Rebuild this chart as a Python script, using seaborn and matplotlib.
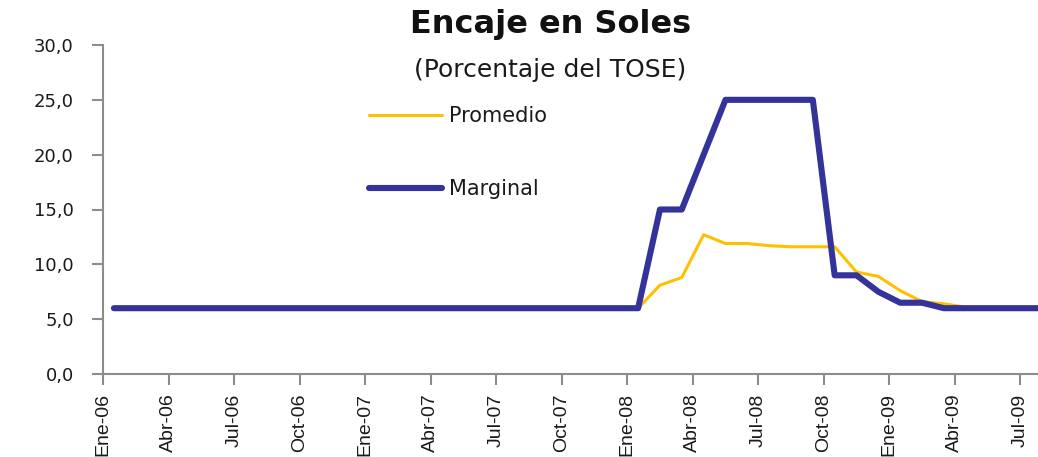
import matplotlib
matplotlib.use("Agg")
import matplotlib.pyplot as plt
import seaborn as sns
import pandas as pd

# Monthly data, Ene-06 .. Ago-09 (one value per month)
marginal = [6.0, 6.0, 6.0, 6.0, 6.0, 6.0, 6.0, 6.0, 6.0, 6.0, 6.0, 6.0,   # 2006
            6.0, 6.0, 6.0, 6.0, 6.0, 6.0, 6.0, 6.0, 6.0, 6.0, 6.0, 6.0,   # 2007
            6.0, 15.0, 15.0, 20.0, 25.0, 25.0, 25.0, 25.0, 25.0, 9.0, 9.0, 7.5,  # 2008
            6.5, 6.5, 6.0, 6.0, 6.0, 6.0, 6.0, 6.0]                      # 2009
promedio = [6.0, 6.0, 6.0, 6.0, 6.0, 6.0, 6.0, 6.0, 6.0, 6.0, 6.0, 6.0,
            6.0, 6.0, 6.0, 6.0, 6.0, 6.0, 6.0, 6.0, 6.0, 6.0, 6.0, 6.0,
            6.0, 8.1, 8.8, 12.7, 11.9, 11.9, 11.7, 11.6, 11.6, 11.6, 9.3, 8.9,
            7.6, 6.6, 6.4, 6.1, 6.0, 6.0, 6.0, 6.0]

tick_labels = ["Ene-06", "Abr-06", "Jul-06", "Oct-06",
               "Ene-07", "Abr-07", "Jul-07", "Oct-07",
               "Ene-08", "Abr-08", "Jul-08", "Oct-08",
               "Ene-09", "Abr-09", "Jul-09"]
y_ticks = [0, 5, 10, 15, 20, 25, 30]

# points sit in the middle of each month slot
df = pd.DataFrame({"mes": [i + 0.5 for i in range(len(marginal))],
                   "Promedio": promedio, "Marginal": marginal})

sns.set_style("white")
plt.rcParams["font.family"] = ["DejaVu Sans"]

W, H = 1038, 457
fig = plt.figure(figsize=(W / 100, H / 100), dpi=100)
ax = fig.add_axes([103 / W, 83 / H, 961 / W, 329 / H])

sns.lineplot(data=df, x="mes", y="Promedio", ax=ax, color="#FFC000",
             linewidth=2.2, label="Promedio")
sns.lineplot(data=df, x="mes", y="Marginal", ax=ax, color="#333399",
             linewidth=4.4, label="Marginal")

ax.set_xlim(0, len(marginal))
ax.set_ylim(0, 30)
ax.set_xticks(range(0, 3 * len(tick_labels), 3))
ax.set_xticklabels(tick_labels, rotation=90, family="Liberation Sans",
                   fontsize=14, color="#1a1a1a")
ax.set_yticks(y_ticks)
ax.set_yticklabels([f"{v:.1f}".replace(".", ",") for v in y_ticks],
                   fontsize=13, color="#1a1a1a")
ax.set_xlabel("")
ax.set_ylabel("")

for s in ["top", "right"]:
    ax.spines[s].set_visible(False)
for s in ["left", "bottom"]:
    ax.spines[s].set_color("#8c8c8c")
    ax.spines[s].set_linewidth(1.5)
ax.tick_params(axis="both", direction="out", length=8, width=1.5,
               color="#8c8c8c", bottom=True, left=True)
ax.tick_params(axis="y", pad=13)
ax.tick_params(axis="x", pad=6)

ax.legend(loc="upper left", bbox_to_anchor=(369 / W, 1 - 106 / H),
          bbox_transform=fig.transFigure, frameon=False, fontsize=15,
          handlelength=3.5, handletextpad=0.35, labelspacing=2.55,
          borderpad=0, borderaxespad=0, labelcolor="#1a1a1a")

fig.text(551 / W, 1 - 25 / H, "Encaje en Soles", ha="center", va="center",
         fontsize=23, fontweight="bold", color="#111111")
fig.text(550 / W, 1 - 70 / H, "(Porcentaje del TOSE)", ha="center", va="center",
         fontsize=18, color="#1a1a1a")

fig.savefig("out.png", dpi=100)
